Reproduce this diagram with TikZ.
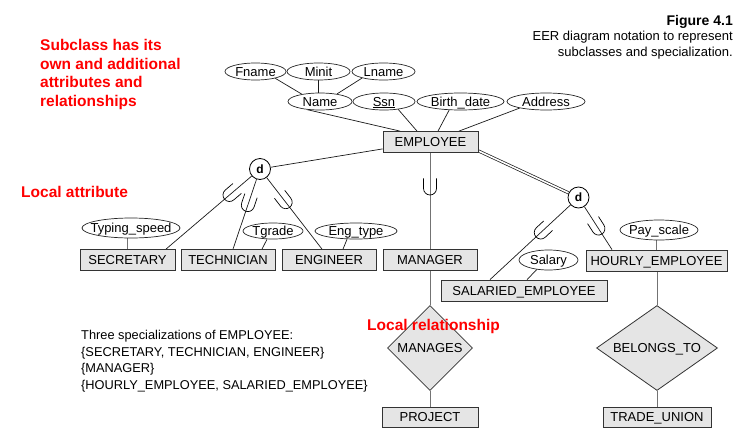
\documentclass[tikz,border=0pt]{standalone}
\usepackage{fontspec}
\setmainfont{Liberation Sans}
\usetikzlibrary{shapes.geometric,calc,decorations.markings,backgrounds}
\newcommand{\attrtext}[1]{\makebox[0pt]{#1}}
\begin{document}
\begin{tikzpicture}[x=1pt,y=-1pt,
  every node/.style={font=\fontsize{13}{15}\selectfont},
  entity/.style={draw=black!80, line width=0.8pt, fill=black!10, minimum height=21pt, inner sep=0pt, text height=9.2pt, text depth=0pt},
  attr/.style={ellipse, draw=black!85, line width=0.7pt, fill=white, inner sep=0pt, text height=9pt, text depth=0pt},
  rel/.style={diamond, draw=black!80, line width=0.8pt, fill=black!10, inner sep=0pt, text height=9.2pt, text depth=0pt},
  dcirc/.style={circle, draw, line width=0.8pt, fill=white, inner sep=0pt, minimum size=21pt, font=\bfseries\fontsize{12}{14}\selectfont},
  conn/.style={line width=0.7pt, draw=black!90},
  gconn/.style={line width=0.7pt, draw=black!55},
  note/.style={text=red, font=\bfseries\fontsize{15.5}{18.6}\selectfont, align=left, inner sep=0pt},
  subsetat/.style={postaction={decorate, decoration={markings, mark=at position #1 with {\draw[line width=0.7pt, black] (-10pt,6.5pt) -- (0pt,6.5pt) arc[start angle=90, end angle=-90, radius=6.5pt] -- (-10pt,-6.5pt);}}}}
]
\useasboundingbox (0,0) rectangle (744,442);

% attributes of EMPLOYEE
\node[attr, minimum width=61pt, minimum height=17pt] (fname) at (255.5,71.5) {\attrtext{Fname}};
\node[attr, minimum width=63pt, minimum height=17pt] (minit) at (318.5,71.5) {\attrtext{Minit}};
\node[attr, minimum width=63pt, minimum height=17pt] (lname) at (383.5,71.5) {\attrtext{Lname}};
\node[attr, minimum width=64pt, minimum height=17pt] (name) at (320,101.5) {\attrtext{Name}};
\node[attr, minimum width=62pt, minimum height=17pt] (ssn) at (384,101.5) {\attrtext{\underline{Ssn}}};
\node[attr, minimum width=87pt, minimum height=17pt] (birth) at (460.5,101.5) {\attrtext{Birth\_date}};
\node[attr, minimum width=78pt, minimum height=17pt] (addr) at (546,101.5) {\attrtext{Address}};

% entities
\node[entity, minimum width=95pt] (emp) at (430.5,142) {EMPLOYEE};
\node[entity, minimum width=95pt] (sec) at (127.5,260) {SECRETARY};
\node[entity, minimum width=94pt] (tech) at (228,260) {TECHNICIAN};
\node[entity, minimum width=94pt] (eng) at (329,260) {ENGINEER};
\node[entity, minimum width=94pt] (mgr) at (430,260) {MANAGER};
\node[entity, minimum width=141pt] (hourly) at (656.5,260.5) {HOURLY\_EMPLOYEE};
\node[entity, minimum width=166pt] (salaried) at (524,290.5) {SALARIED\_EMPLOYEE};
\node[entity, minimum width=96pt, minimum height=20pt] (project) at (430,417) {PROJECT};
\node[entity, minimum width=108pt, minimum height=20pt] (trade) at (657,417) {TRADE\_UNION};

% local attributes
\node[attr, minimum width=98pt, minimum height=20pt] (ts) at (131,228) {\attrtext{Typing\_speed}};
\node[attr, minimum width=60pt, minimum height=16pt] (tg) at (273,231) {\attrtext{Tgrade}};
\node[attr, minimum width=82pt, minimum height=16pt] (et) at (356,231) {\attrtext{Eng\_type}};
\node[attr, minimum width=59pt, minimum height=20pt] (sal) at (548.5,260) {\attrtext{Salary}};
\node[attr, minimum width=78pt, minimum height=20pt] (pay) at (659,230) {\attrtext{Pay\_scale}};

% specialization circles
\node[dcirc] (d1) at (260,169) {d};
\node[dcirc] (d2) at (578.5,197.5) {d};

% relationships
\node[rel, aspect=1, minimum width=85pt, minimum height=85pt] (manages) at (430,348) {MANAGES};
\node[rel, aspect=1.43, minimum width=121pt, minimum height=85pt] (belongs) at (657,348) {BELONGS\_TO};

\begin{scope}[on background layer]
  \draw[conn] (fname.-19) -- (name.158);
  \draw[conn] (minit.south) -- (minit.south |- name.north);
  \draw[conn] (lname.197) -- (name.24);
  \draw[conn] (name.212) -- ($(emp.north)+(-30.5,0)$);
  \draw[conn] (ssn.331) -- ($(emp.north)+(-13.5,0)$);
  \draw[conn] (birth.217) -- ($(emp.north)+(7.5,0)$);
  \draw[conn] (addr.194) -- ($(emp.north)+(28.5,0)$);

  \draw[conn] ([yshift=4pt]emp.south west) -- (d1);
  \draw[conn, double, double distance=1.6pt] ([yshift=2pt]emp.south east) -- (d2);

  \draw[conn, subsetat=0.26] (d1) -- ($(sec.north)+(38.5,0)$);
  \draw[conn, subsetat=0.37] (d1) -- ($(tech.north)+(5,0)$);
  \draw[conn, subsetat=0.345] (d1) -- ($(eng.north)+(-7,0)$);
  \draw[gconn, subsetat=0.37] (mgr.north |- emp.south) -- (mgr.north);
  \draw[conn, subsetat=0.37] (d2) -- ($(salaried.north)+(-34,0)$);
  \draw[conn, subsetat=0.51] (d2) -- ($(hourly.north)+(-44.5,0)$);

  \draw[gconn] (sec.north |- ts.south) -- (sec.north);
  \draw[conn] ([xshift=-6pt]tg.south) -- ([xshift=34pt]tech.north);
  \draw[conn] ([xshift=-9pt]et.south) -- ([xshift=14pt]eng.north);
  \draw[conn] ([xshift=-11.5pt,yshift=1pt]sal.south) -- ([xshift=3pt]salaried.north);
  \draw[gconn] (hourly.north |- pay.south) -- (hourly.north);

  \draw[gconn] (mgr.south) -- (manages.north);
  \draw[gconn] (manages.south) -- (project.north);
  \draw[gconn] (belongs.north |- hourly.south) -- (belongs.north);
  \draw[gconn] (belongs.south) -- (trade.north);
\end{scope}

% texts
\node[anchor=north east, align=right, inner sep=0pt, font=\fontsize{13}{15.5}\selectfont] (cap) at (733,15)
  {{\bfseries\fontsize{14}{15.5}\selectfont Figure 4.1}\\EER diagram notation to represent\\subclasses and specialization.};
\node[anchor=north west, align=left, inner sep=0pt, font=\fontsize{12.8}{16.7}\selectfont] (three) at (81,330)
  {Three specializations of EMPLOYEE:\\\{SECRETARY, TECHNICIAN, ENGINEER\}\\\{MANAGER\}\\\{HOURLY\_EMPLOYEE, SALARIED\_EMPLOYEE\}};
\node[note, anchor=north west] (n1) at (40,39) {Subclass has its\\own and additional\\attributes and\\relationships};
\node[note, anchor=north west] (n2) at (21,186) {Local attribute};
\node[note, anchor=north west] (n3) at (367,319) {Local relationship};
\end{tikzpicture}
\end{document}
